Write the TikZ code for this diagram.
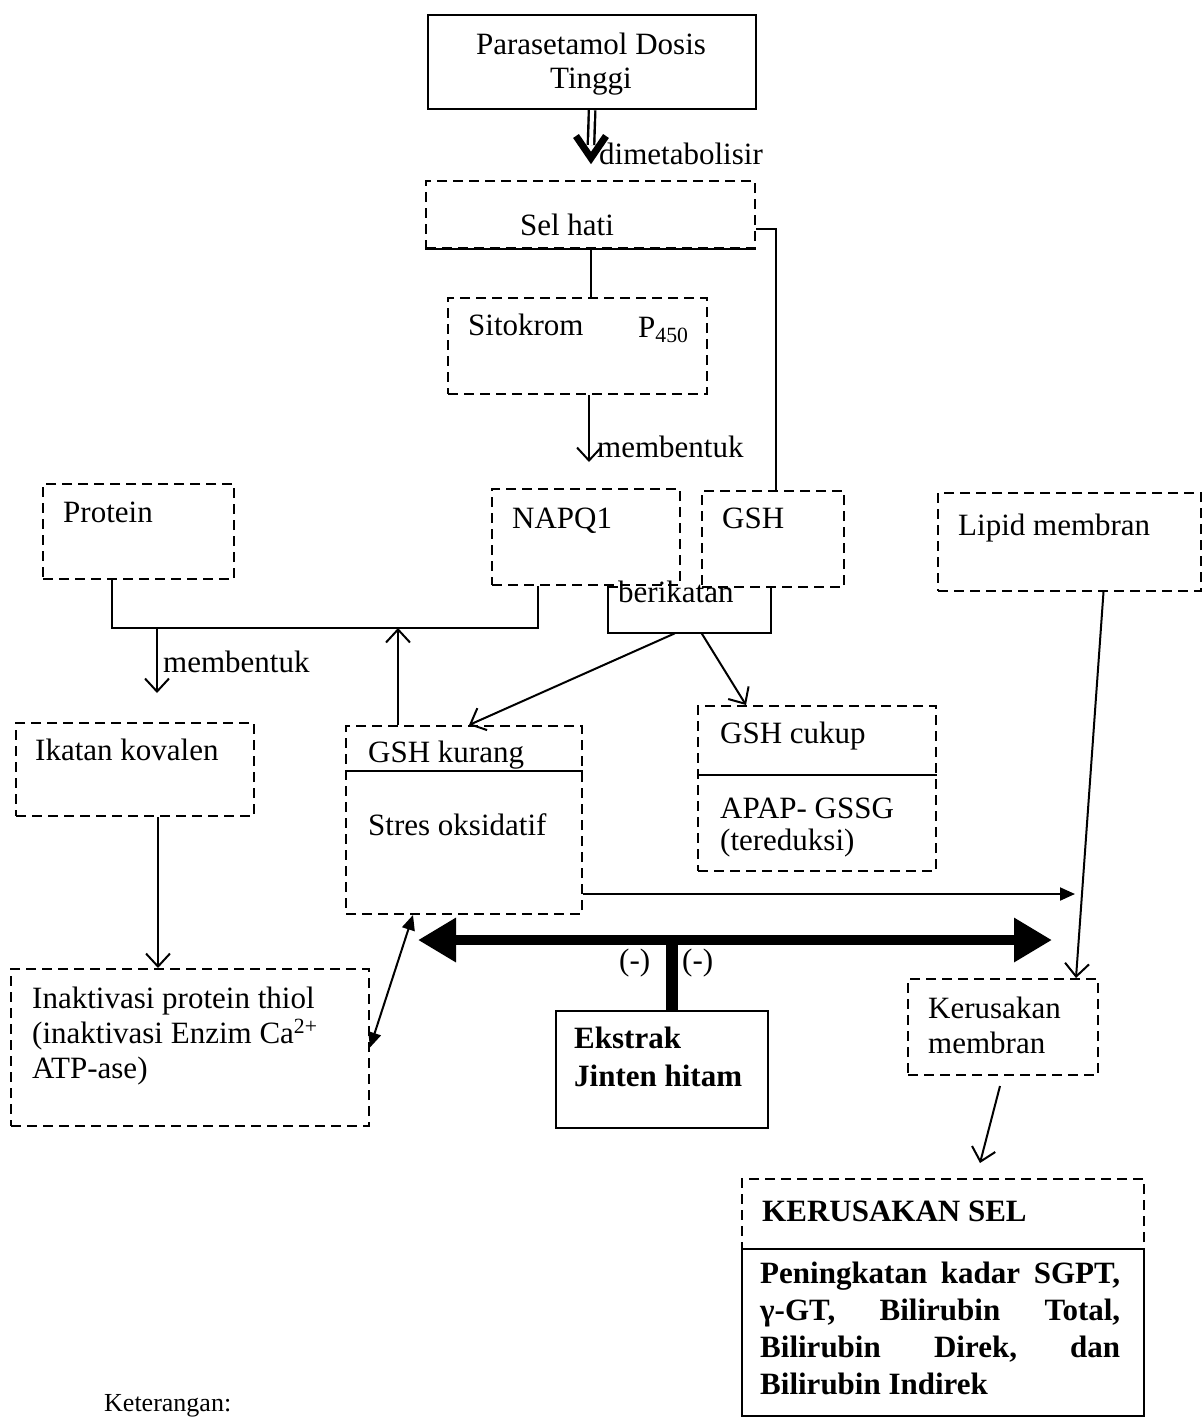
\documentclass[tikz,border=0pt]{standalone}
\usepackage{fontspec}
\setmainfont{Liberation Serif}
\usetikzlibrary{arrows.meta,calc}
\begin{document}
\begin{tikzpicture}[x=1pt,y=-1pt,
  font=\fontsize{31}{37}\selectfont,
  dbox/.style={draw, line width=2pt, dash pattern=on 10pt off 6pt, rectangle, inner sep=0pt, anchor=north west},
  sbox/.style={draw, line width=2.2pt, rectangle, inner sep=0pt, anchor=north west},
  txt/.style={inner sep=0pt, anchor=base west},
  conn/.style={line width=2pt},
  vhead/.style={conn, -{Straight Barb[length=13pt,width=24pt]}},
  fhead/.style={conn, -{Triangle[length=15pt,width=13pt]}},
  ftip/.tip={Triangle[length=15pt,width=13pt]},
  bigtip/.tip={Triangle[length=38pt,width=42pt]}
]
\fill[white] (0,0) rectangle (1202,1417);
\useasboundingbox (0,0) rectangle (1202,1417);

% Parasetamol
\node[sbox, minimum width=328pt, minimum height=94pt] (par) at (427,14) {};
\node[txt, anchor=base] (part1) at (591,54) {Parasetamol Dosis};
\node[txt, anchor=base] (part2) at (591,88) {Tinggi};

% Sel hati
\node[dbox, minimum width=329pt, minimum height=67pt] (sel) at (425,180) {};
\draw[conn] (sel.south west) -- (sel.south east);
\node[txt, anchor=base] (selt) at (567,235) {Sel hati};

% dimetabolisir arrow
\coordinate (dmtip) at (591,165);
\draw[line width=2.4pt, double distance=4pt] (par.south) -- ($(dmtip)+(0,-20)$);
\draw[line width=7pt, line join=miter, miter limit=3] ($(dmtip)+(-15,-29)$) -- ($(dmtip)+(0,-7)$) -- ($(dmtip)+(15,-29)$);
\node[txt] (dml) at (599,164) {dimetabolisir};

% Sitokrom
\node[dbox, minimum width=259pt, minimum height=96pt] (sito) at (447,297) {};
\node[txt] (sitot) at (468,335) {Sitokrom};
\node[txt] (p450) at (638,337) {P\textsubscript{450}};
\draw[conn] (sel.south) -- (sel.south |- sito.north);

\coordinate (mtip) at (589,462);
\draw[vhead] (sito.south -| mtip) -- (mtip);
\node[txt] (mem1) at (597,457) {membentuk};

% NAPQ1, GSH, Lipid, Protein
\node[dbox, minimum width=188pt, minimum height=96pt] (napq) at (491,488) {};
\node[txt] (napqt) at (512,528) {NAPQ1};
\node[dbox, minimum width=142pt, minimum height=96pt] (gsh) at (701,490) {};
\node[txt] (gsht) at (722,528) {GSH};
\draw[conn] ([yshift=-14pt]sel.east) -| ([xshift=3pt]gsh.north);
\node[dbox, minimum width=263pt, minimum height=98pt] (lipid) at (937,492) {};
\node[txt] (lipidt) at (958,535) {Lipid membran};
\node[dbox, minimum width=191pt, minimum height=95pt] (prot) at (42,483) {};
\node[txt] (prott) at (63,522) {Protein};

% berikatan
\node[inner sep=0pt, minimum width=163pt, minimum height=46pt, anchor=north west] (ber) at (608,587) {};
\draw[conn] ([xshift=10pt]ber.north west) -- (ber.north west) -- (ber.south west) -- (ber.south east) -- (ber.north east);
\node[txt] (bert) at (618,602) {berikatan};

% junction line
\coordinate (jL) at (112,628);
\coordinate (jR) at (538,628);
\draw[conn] (napq.south -| jR) -- (jR) -- (jL) -- (prot.south -| jL);
\coordinate (m2s) at (157,628);
\coordinate (m2t) at (157,693);
\draw[vhead] (m2s) -- (m2t);
\node[txt] (mem2) at (163,672) {membentuk};

% GSH kurang / Stres oksidatif
\node[dbox, minimum width=236pt, minimum height=188pt] (kur) at (345,725) {};
\draw[conn] (kur.west |- 0,771) -- (kur.east |- 0,771);
\node[txt] (kurt) at (368,762) {GSH kurang};
\node[txt] (stret) at (368,835) {Stres oksidatif};
\coordinate (kupt) at ([xshift=-66pt]kur.north);
\draw[vhead] (kupt) -- (kupt |- jL);

% GSH cukup
\node[dbox, minimum width=238pt, minimum height=165pt] (cuk) at (697,705) {};
\draw[conn] (cuk.west |- 0,775) -- (cuk.east |- 0,775);
\node[txt] (cukt) at (720,743) {GSH cukup};
\node[txt] (apap) at (720,818) {APAP- GSSG};
\node[txt] (tered) at (720,850) {(tereduksi)};

\draw[vhead] ([xshift=-15pt]ber.south) -- ([xshift=5pt]kur.north);
\draw[vhead] ([xshift=12pt]ber.south) -- ([xshift=-71pt]cuk.north);

% Ikatan kovalen
\node[dbox, minimum width=238pt, minimum height=93pt] (ika) at (15,722) {};
\node[txt] (ikat) at (35,760) {Ikatan kovalen};

% Inaktivasi
\node[dbox, minimum width=358pt, minimum height=157pt] (ina) at (10,968) {};
\node[txt] (ina1) at (32,1008) {Inaktivasi protein thiol};
\node[txt] (ina2) at (32,1043) {(inaktivasi Enzim Ca\textsuperscript{2+}};
\node[txt] (ina3) at (32,1078) {ATP-ase)};
\coordinate (ia) at ([xshift=23pt]ika.south);
\draw[vhead] (ia) -- (ia |- ina.north);
\draw[conn, ftip-ftip] ([xshift=-51pt]kur.south) -- (ina.east);

% Stres -> right
\coordinate (srt) at (1075,894);
\draw[fhead] (kur.east |- srt) -- (srt);

% Ekstrak and thick arrow
\node[sbox, minimum width=212pt, minimum height=117pt] (ekst) at (555,1010) {};
\node[txt, font=\fontsize{31}{37}\selectfont\bfseries] (ekt1) at (574,1048) {Ekstrak};
\node[txt, font=\fontsize{31}{37}\selectfont\bfseries] (ekt2) at (574,1086) {Jinten hitam};
\coordinate (tl) at (418,940);
\coordinate (tr) at (1052,940);
\draw[line width=10pt, bigtip-bigtip] (tl) -- (tr);
\coordinate (tm) at (672,940);
\draw[line width=12pt] (tm) -- (tm |- ekst.north);
\node[txt] (neg1) at (619,970) {(-)};
\node[txt] (neg2) at (682,970) {(-)};

% Kerusakan membran
\node[dbox, minimum width=190pt, minimum height=96pt] (kmem) at (907,978) {};
\node[txt] (kmt1) at (928,1018) {Kerusakan};
\node[txt] (kmt2) at (928,1053) {membran};
\draw[vhead] ([xshift=34pt]lipid.south) -- ([xshift=73pt]kmem.north);
\coordinate (k1) at (1000,1086);
\coordinate (k2) at (980,1163);
\draw[vhead] (k1) -- (k2);

% Kerusakan sel
\node[dbox, minimum width=402pt, minimum height=237pt] (ksel) at (741,1178) {};
\node[sbox, minimum width=402pt, minimum height=167pt] (kres) at (741,1248) {};
\node[txt, font=\fontsize{31}{37}\selectfont\bfseries] (kselt) at (762,1221) {KERUSAKAN SEL};
\node[txt, anchor=north west, align=left, font=\fontsize{31}{37}\selectfont\bfseries] (krest) at (760,1262)
  {\hbox to 360pt{Peningkatan\hfill kadar\hfill SGPT,}\\
   \hbox to 360pt{γ-GT,\hfill Bilirubin\hfill Total,}\\
   \hbox to 360pt{Bilirubin\hfill Direk,\hfill dan}\\
   Bilirubin Indirek};

% Keterangan
\node[txt, font=\fontsize{26}{30}\selectfont] (ket) at (104,1411) {Keterangan:};
\end{tikzpicture}
\end{document}
